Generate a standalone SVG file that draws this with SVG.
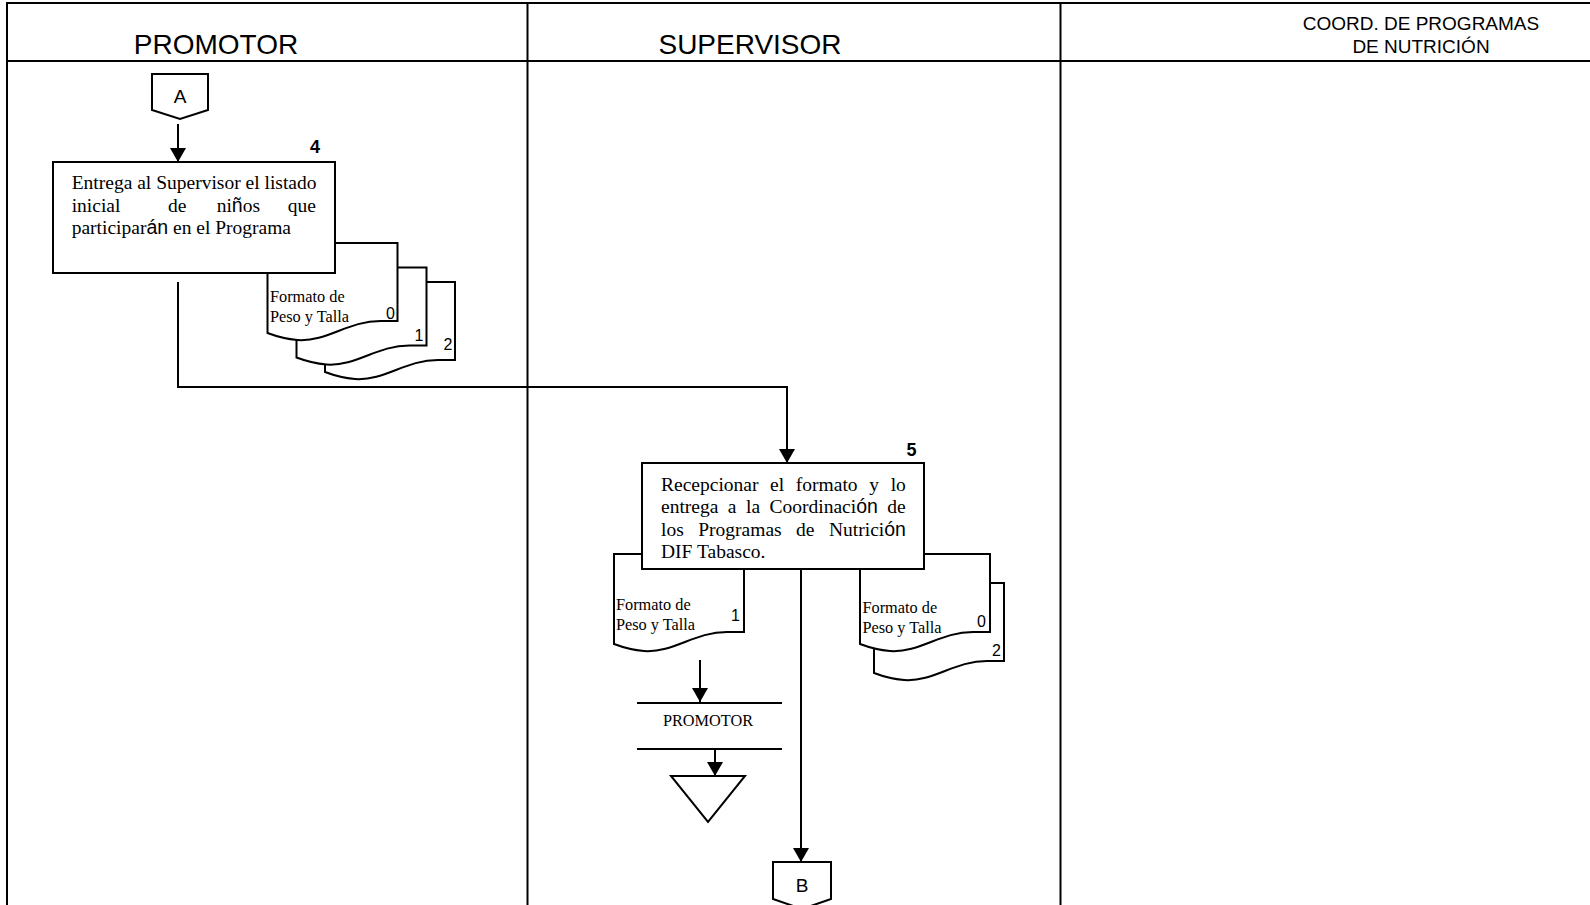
<svg xmlns="http://www.w3.org/2000/svg" width="1590" height="905" viewBox="0 0 1590 905">
<defs>
<marker id="ah" viewBox="0 0 14 16" refX="14" refY="8" markerWidth="14" markerHeight="16" markerUnits="userSpaceOnUse" orient="auto"><path d="M0,0 L14,8 L0,16 Z" fill="#000"/></marker>
<path id="doc" d="M0,0 H130 V78 H113 C80,78 60,99 30,97 C18,96 8,93 0,90 Z"/>
</defs>
<style>
.ln{stroke:#000;stroke-width:2;fill:none}
.shape{fill:#fff;stroke:#000;stroke-width:2}
.conn{stroke:#000;stroke-width:2;fill:none}
.hdr{font-family:"Liberation Sans",Arial,sans-serif;fill:#000}
.body{font-family:"Liberation Serif","Times New Roman",serif;font-size:19.5px;fill:#000}
.docT{font-family:"Liberation Serif","Times New Roman",serif;font-size:16.3px;fill:#000}
.num{font-family:"Liberation Sans",Arial,sans-serif;font-size:16px;fill:#000}
.step{font-family:"Liberation Sans",Arial,sans-serif;font-size:18px;font-weight:bold;fill:#000}
.sans{font-family:"Liberation Sans",Arial,sans-serif}
</style>
<rect width="1590" height="905" fill="#fff"/>
<g id="lanes" class="ln">
<line x1="6" y1="3" x2="1590" y2="3"/>
<line x1="7" y1="3" x2="7" y2="905"/>
<line x1="7" y1="61" x2="1590" y2="61"/>
<line x1="527.5" y1="3" x2="527.5" y2="905"/>
<line x1="1060.5" y1="3" x2="1060.5" y2="905"/>
</g>
<g id="headers" class="hdr">
<text x="216" y="53.5" font-size="28" text-anchor="middle">PROMOTOR</text>
<text x="750" y="53.5" font-size="28" text-anchor="middle">SUPERVISOR</text>
<text x="1421" y="30" font-size="19" text-anchor="middle">COORD. DE PROGRAMAS</text>
<text x="1421" y="53" font-size="19" text-anchor="middle">DE NUTRICIÓN</text>
</g>
<g id="connectors" class="conn">
<line x1="178" y1="124" x2="178" y2="162" marker-end="url(#ah)"/>
<polyline points="178,282 178,387 787,387 787,463" marker-end="url(#ah)"/>
<line x1="700" y1="660" x2="700" y2="702" marker-end="url(#ah)"/>
<line x1="715" y1="749" x2="715" y2="776" marker-end="url(#ah)"/>
<line x1="801" y1="569" x2="801" y2="862" marker-end="url(#ah)"/>
</g>
<g id="connA">
<polygon class="shape" points="152,74 208,74 208,110 180,119 152,110"/>
<text class="hdr" x="180" y="103" font-size="19" text-anchor="middle">A</text>
</g>
<g id="docs4">
<use href="#doc" x="325" y="282" class="shape"/>
<use href="#doc" x="296.5" y="267.5" class="shape"/>
<use href="#doc" x="267.5" y="243" class="shape"/>
<text class="docT" x="270" y="302">Formato de</text>
<text class="docT" x="270" y="322">Peso y Talla</text>
<text class="num" x="395" y="319" text-anchor="end">0</text>
<text class="num" x="423.5" y="341" text-anchor="end">1</text>
<text class="num" x="452.5" y="350" text-anchor="end">2</text>
</g>
<g id="step4">
<rect class="shape" x="53" y="162" width="282" height="111"/>
<text class="step" x="315" y="153" text-anchor="middle">4</text>
<text class="body" x="71.7" y="189.3">Entrega al Supervisor el listado</text>
<text class="body" y="211.7"><tspan x="71.7">inicial</tspan><tspan x="168">de</tspan><tspan x="216.7">ni<tspan class="sans">ñ</tspan>os</tspan><tspan x="316" text-anchor="end">que</tspan></text>
<text class="body" x="71.7" y="234.3">participar<tspan class="sans">án</tspan> en el Programa</text>
</g>
<g id="docs5left">
<use href="#doc" x="614" y="554" class="shape"/>
<text class="docT" x="616" y="610">Formato de</text>
<text class="docT" x="616" y="630">Peso y Talla</text>
<text class="num" x="740" y="621" text-anchor="end">1</text>
</g>
<g id="docs5right">
<use href="#doc" x="874" y="583" class="shape"/>
<use href="#doc" x="860" y="554" class="shape"/>
<text class="docT" x="862.5" y="612.5">Formato de</text>
<text class="docT" x="862.5" y="633">Peso y Talla</text>
<text class="num" x="986" y="627" text-anchor="end">0</text>
<text class="num" x="1001" y="656" text-anchor="end">2</text>
</g>
<g id="step5">
<rect class="shape" x="642" y="463" width="282" height="106"/>
<text class="step" x="911.5" y="455.5" text-anchor="middle">5</text>
<text class="body" x="661" y="491" word-spacing="6.8">Recepcionar el formato y lo</text>
<text class="body" x="661" y="513.3" word-spacing="4.6">entrega a la Coordinaci<tspan class="sans">ón</tspan> de</text>
<text class="body" x="661" y="536" word-spacing="9.6">los Programas de Nutrici<tspan class="sans">ón</tspan></text>
<text class="body" x="661" y="558.3">DIF Tabasco.</text>
</g>
<g id="destPromotor">
<line class="ln" x1="637" y1="703" x2="782" y2="703"/>
<line class="ln" x1="637" y1="749" x2="782" y2="749"/>
<text class="docT" x="708" y="726" font-size="16.5" text-anchor="middle">PROMOTOR</text>
</g>
<g id="endArchive">
<polygon class="shape" points="671,776 745,776 708,822"/>
</g>
<g id="connB">
<polygon class="shape" points="773,862 831,862 831,899 802,909 773,899"/>
<text class="hdr" x="802" y="891.5" font-size="19" text-anchor="middle">B</text>
</g>
</svg>
